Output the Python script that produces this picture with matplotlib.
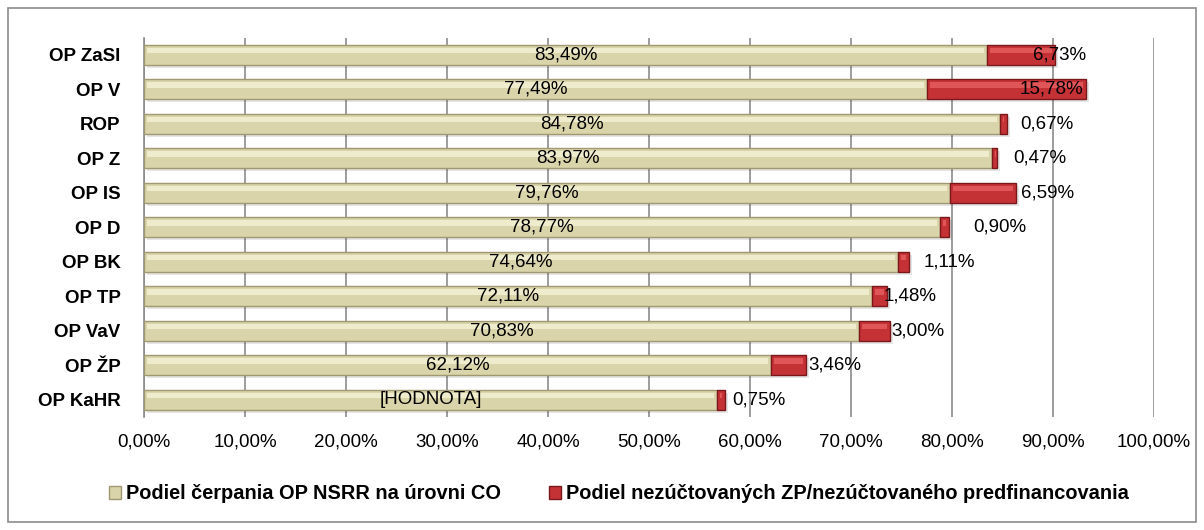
import matplotlib.pyplot as plt
from matplotlib.patches import Rectangle
from matplotlib.ticker import FuncFormatter

FONT = ["Liberation Sans", "DejaVu Sans"]

programs = ["OP ZaSI", "OP V", "ROP", "OP Z", "OP IS", "OP D",
            "OP BK", "OP TP", "OP VaV", "OP ŽP", "OP KaHR"]
cerpanie = [83.49, 77.49, 84.78, 83.97, 79.76, 78.77, 74.64, 72.11, 70.83, 62.12, 56.73]
nezuctovane = [6.73, 15.78, 0.67, 0.47, 6.59, 0.90, 1.11, 1.48, 3.00, 3.46, 0.75]
cerpanie_labels = ["83,49%", "77,49%", "84,78%", "83,97%", "79,76%", "78,77%",
                   "74,64%", "72,11%", "70,83%", "62,12%", "[HODNOTA]"]

legend_labels = ["Podiel čerpania OP NSRR na úrovni CO",
                 "Podiel nezúčtovaných ZP/nezúčtovaného predfinancovania"]

# label placement for the red segment (offset from bar end, in % points)
red_offsets = [0.4, -0.3, 1.3, 1.6, 0.5, 2.4, 1.4, -0.4, 0.2, 0.2, 0.8]
red_align = ["center", "right", "left", "left", "left", "left",
             "left", "left", "left", "left", "left"]

beige = "#DAD4AA"
beige_light = "#EFECCD"
beige_dark = "#9F9870"
red = "#C53236"
red_light = "#E05558"
red_dark = "#7A1719"


def main():
    fig = plt.figure(figsize=(12.04, 5.30), dpi=100)
    ax = fig.add_axes([0.1196, 0.2132, 0.8389, 0.7156])

    y = list(range(len(programs)))
    h = 0.58

    # soft shadow
    ax.barh([v + 0.08 for v in y], [a + b for a, b in zip(cerpanie, nezuctovane)],
            left=0.3, height=h, color="#000000", alpha=0.10, zorder=2)

    ax.barh(y, cerpanie, height=h, color=beige, edgecolor=beige_dark,
            linewidth=1.0, zorder=3)
    ax.barh(y, nezuctovane, left=cerpanie, height=h, color=red,
            edgecolor=red_dark, linewidth=1.0, zorder=3)
    # bevel highlight
    ax.barh([v - h * 0.22 for v in y], [c - 0.6 for c in cerpanie], left=0.3,
            height=h * 0.28, color=beige_light, linewidth=0, zorder=4)
    ax.barh([v - h * 0.22 for v in y], [max(n - 0.6, 0.1) for n in nezuctovane],
            left=[c + 0.3 for c in cerpanie], height=h * 0.28, color=red_light,
            linewidth=0, zorder=4)

    for i in y:
        ax.text(cerpanie[i] / 2, i, cerpanie_labels[i], ha="center", va="center",
                fontsize=13.5, family=FONT, zorder=6)
        end = cerpanie[i] + nezuctovane[i]
        ax.text(end + red_offsets[i], i, f"{nezuctovane[i]:.2f}%".replace(".", ","),
                ha=red_align[i], va="center", fontsize=13.5, family=FONT, zorder=6)

    ax.set_xlim(0, 100)
    ax.set_ylim(len(programs) - 0.5, -0.5)
    ax.set_xticks(range(0, 101, 10))
    ax.xaxis.set_major_formatter(FuncFormatter(lambda v, p: f"{v:.2f}%".replace(".", ",")))
    ax.set_yticks(y)
    ax.set_yticklabels(programs, fontweight="bold", fontsize=13.5, family=FONT)
    for lab in ax.get_xticklabels():
        lab.set_family(FONT)
        lab.set_fontsize(13.5)

    ax.grid(axis="x", color="#8C8C8C", linewidth=1.2, zorder=0)
    ax.set_axisbelow(True)
    for s in ["top", "right", "bottom"]:
        ax.spines[s].set_visible(False)
    ax.spines["left"].set_color("#8C8C8C")
    ax.spines["left"].set_linewidth(1.2)
    ax.tick_params(axis="x", length=0, pad=12)
    ax.tick_params(axis="y", length=0, pad=17)

    handles = [Rectangle((0, 0), 1, 1, facecolor=beige, edgecolor=beige_dark),
               Rectangle((0, 0), 1, 1, facecolor=red, edgecolor=red_dark)]
    fig.legend(handles, legend_labels, loc="center", bbox_to_anchor=(0.514, 0.068),
               ncol=2, frameon=False, handlelength=0.6, handleheight=0.6,
               handletextpad=0.25, columnspacing=2.4,
               prop={"family": FONT, "weight": "bold", "size": 14.4})

    fig.patches.append(Rectangle((8 / 1204, 8 / 530), 1188 / 1204, 514 / 530,
                                 transform=fig.transFigure, fill=False,
                                 edgecolor="#8C8C8C", linewidth=1.2))

    fig.savefig("out.png", dpi=100)


if __name__ == "__main__":
    main()
